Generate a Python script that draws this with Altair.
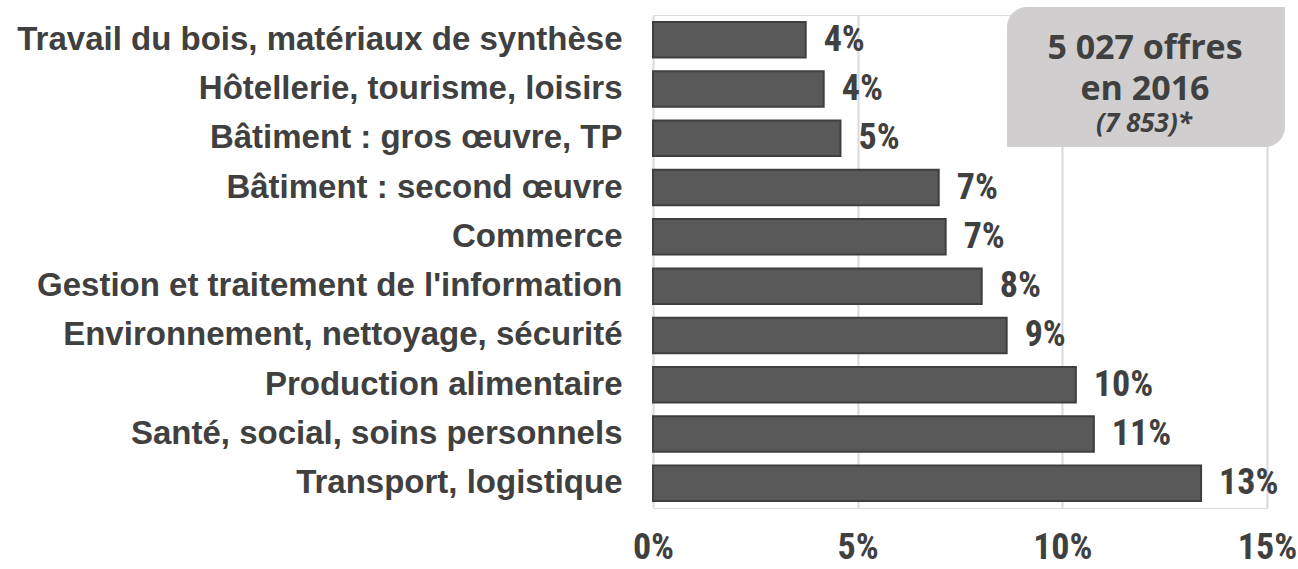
import altair as alt
import pandas as pd

categories = [
    "Travail du bois, matériaux de synthèse",
    "Hôtellerie, tourisme, loisirs",
    "Bâtiment : gros œuvre, TP",
    "Bâtiment : second œuvre",
    "Commerce",
    "Gestion et traitement de l'information",
    "Environnement, nettoyage, sécurité",
    "Production alimentaire",
    "Santé, social, soins personnels",
    "Transport, logistique",
]
values = [3.73, 4.17, 4.58, 6.98, 7.15, 8.03, 8.64, 10.33, 10.77, 13.39]
value_labels = ["4%", "4%", "5%", "7%", "7%", "8%", "9%", "10%", "11%", "13%"]
x_ticks = [0, 5, 10, 15]
box_lines = ["5 027 offres", "en 2016", "(7 853)*"]

df = pd.DataFrame({"cat": categories, "val": values, "lab": value_labels})
box_df = pd.DataFrame({"t": [""]})

TXT = "#404040"
NARROW = "Roboto Condensed, Liberation Sans Narrow, sans-serif"

y_enc = alt.Y(
    "cat:N",
    sort=categories,
    scale=alt.Scale(paddingInner=0.28, paddingOuter=0.14),
    axis=alt.Axis(
        title=None, domain=False, ticks=False, labelPadding=31,
        labelFont="Liberation Sans", labelFontSize=33, labelFontWeight="bold",
        labelColor=TXT, labelLimit=800,
    ),
)
x_enc = alt.X(
    "val:Q",
    scale=alt.Scale(domain=[0, 15], nice=False),
    axis=alt.Axis(
        title=None, values=x_ticks, domain=False, ticks=False, labelFlush=False,
        labelExpr="datum.value + '%'", labelFont=NARROW, labelFontSize=36,
        labelFontWeight="bold", labelColor=TXT, labelPadding=22,
        grid=True, gridColor="#d9d9d9", gridWidth=2,
    ),
)

bars = alt.Chart(df).mark_bar(
    color="#595959", stroke="#3f3f3f", strokeWidth=2
).encode(x=x_enc, y=y_enc)

texts = alt.Chart(df).mark_text(
    align="left", baseline="middle", dx=18, font=NARROW, fontSize=36,
    fontWeight="bold", color=TXT,
).encode(x="val:Q", y=alt.Y("cat:N", sort=categories), text="lab:N")

box = alt.Chart(box_df).mark_rect(
    color="#d0cece", cornerRadiusTopLeft=20, cornerRadiusBottomRight=20
).encode(x=alt.value(354), x2=alt.value(632), y=alt.value(-8), y2=alt.value(132))

line1 = alt.Chart(box_df).mark_text(
    font="Open Sans", fontSize=34, fontWeight="bold", color=TXT,
    align="center", baseline="alphabetic",
).encode(x=alt.value(492), y=alt.value(44), text=alt.value(box_lines[0]))
line2 = alt.Chart(box_df).mark_text(
    font="Open Sans", fontSize=34, fontWeight="bold", color=TXT,
    align="center", baseline="alphabetic",
).encode(x=alt.value(492), y=alt.value(85), text=alt.value(box_lines[1]))
line3 = alt.Chart(box_df).mark_text(
    font="Open Sans", fontSize=26, fontWeight="bold", fontStyle="italic",
    color=TXT, align="center", baseline="alphabetic",
).encode(x=alt.value(491), y=alt.value(117), text=alt.value(box_lines[2]))

chart = alt.layer(bars, texts, box, line1, line2, line3).properties(
    width=614, height=493,
    autosize=alt.AutoSizeParams(type="none"),
    padding={"left": 653, "top": 15, "right": 31, "bottom": 61},
).configure_view(stroke=None).configure(background="white")

chart.save("out.html", embed_options={"renderer": "svg", "actions": False})
